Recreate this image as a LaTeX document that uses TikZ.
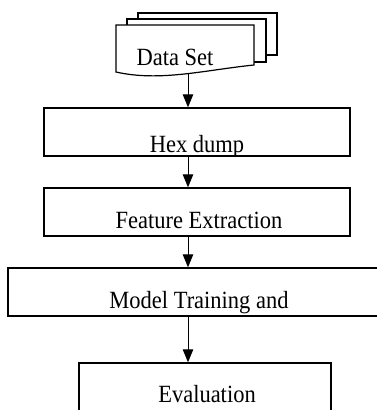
\documentclass[tikz,border=0pt]{standalone}
\usepackage{fontspec}
\setmainfont{Liberation Serif}
\usetikzlibrary{arrows.meta}
\newcommand{\tallt}[1]{\scalebox{1}[1.1]{#1}}
\begin{document}
\begin{tikzpicture}[x=1pt,y=-1pt,
  box/.style={draw, line width=1.4pt, inner sep=0pt, rectangle},
  lbl/.style={anchor=base, inner sep=0pt, font=\fontsize{22.5}{27}\selectfont},
  arr/.style={line width=1pt, -{Triangle[length=13pt,width=10.5pt]}},
  page/.style={draw, line width=1.2pt, fill=white}]
\useasboundingbox (0,0) rectangle (377,410);
\clip (0,0) rectangle (377,410);

% Data set (stacked documents)
\path[page] (138,13) rectangle (277,55);
\path[page] (127,19) rectangle (266,62);
\path[page] (116,25) -- (254,25) -- (254,65)
   .. controls (205,70) and (160,82) .. (116,72) -- cycle;
\node[lbl] (dst) at (175,65) {\tallt{Data Set}};
\coordinate (ds) at (188,74);

% Boxes
\node[box, minimum width=306pt, minimum height=48pt] (hex) at (197,132) {};
\node[box, minimum width=306pt, minimum height=48pt] (feat) at (197,212) {};
\node[box, minimum width=382pt, minimum height=48pt] (model) at (199,292) {};
\node[box, minimum width=252pt, minimum height=67pt] (eval) at (205,396.5) {};

% Labels (clipped by their boxes)
\begin{scope}
  \clip (hex.south west) rectangle (hex.north east);
  \node[lbl] (hext) at (197,152.5) {\tallt{Hex dump}};
\end{scope}
\begin{scope}
  \clip (feat.south west) rectangle (feat.north east);
  \node[lbl] (featt) at (199,228) {\tallt{Feature Extraction}};
\end{scope}
\begin{scope}
  \clip (model.south west) rectangle (model.north east);
  \node[lbl] (modelt) at (199,308) {\tallt{Model Training and}};
\end{scope}
\begin{scope}
  \clip (eval.south west) rectangle (eval.north east);
  \node[lbl] (evalt) at (207,402) {\tallt{Evaluation}};
\end{scope}

% Connectors
\draw[arr] (ds) -- (ds |- hex.north);
\draw[arr] (ds |- hex.south) -- (ds |- feat.north);
\draw[arr] (ds |- feat.south) -- (ds |- model.north);
\draw[arr] (ds |- model.south) -- (ds |- eval.north);
\end{tikzpicture}
\end{document}
